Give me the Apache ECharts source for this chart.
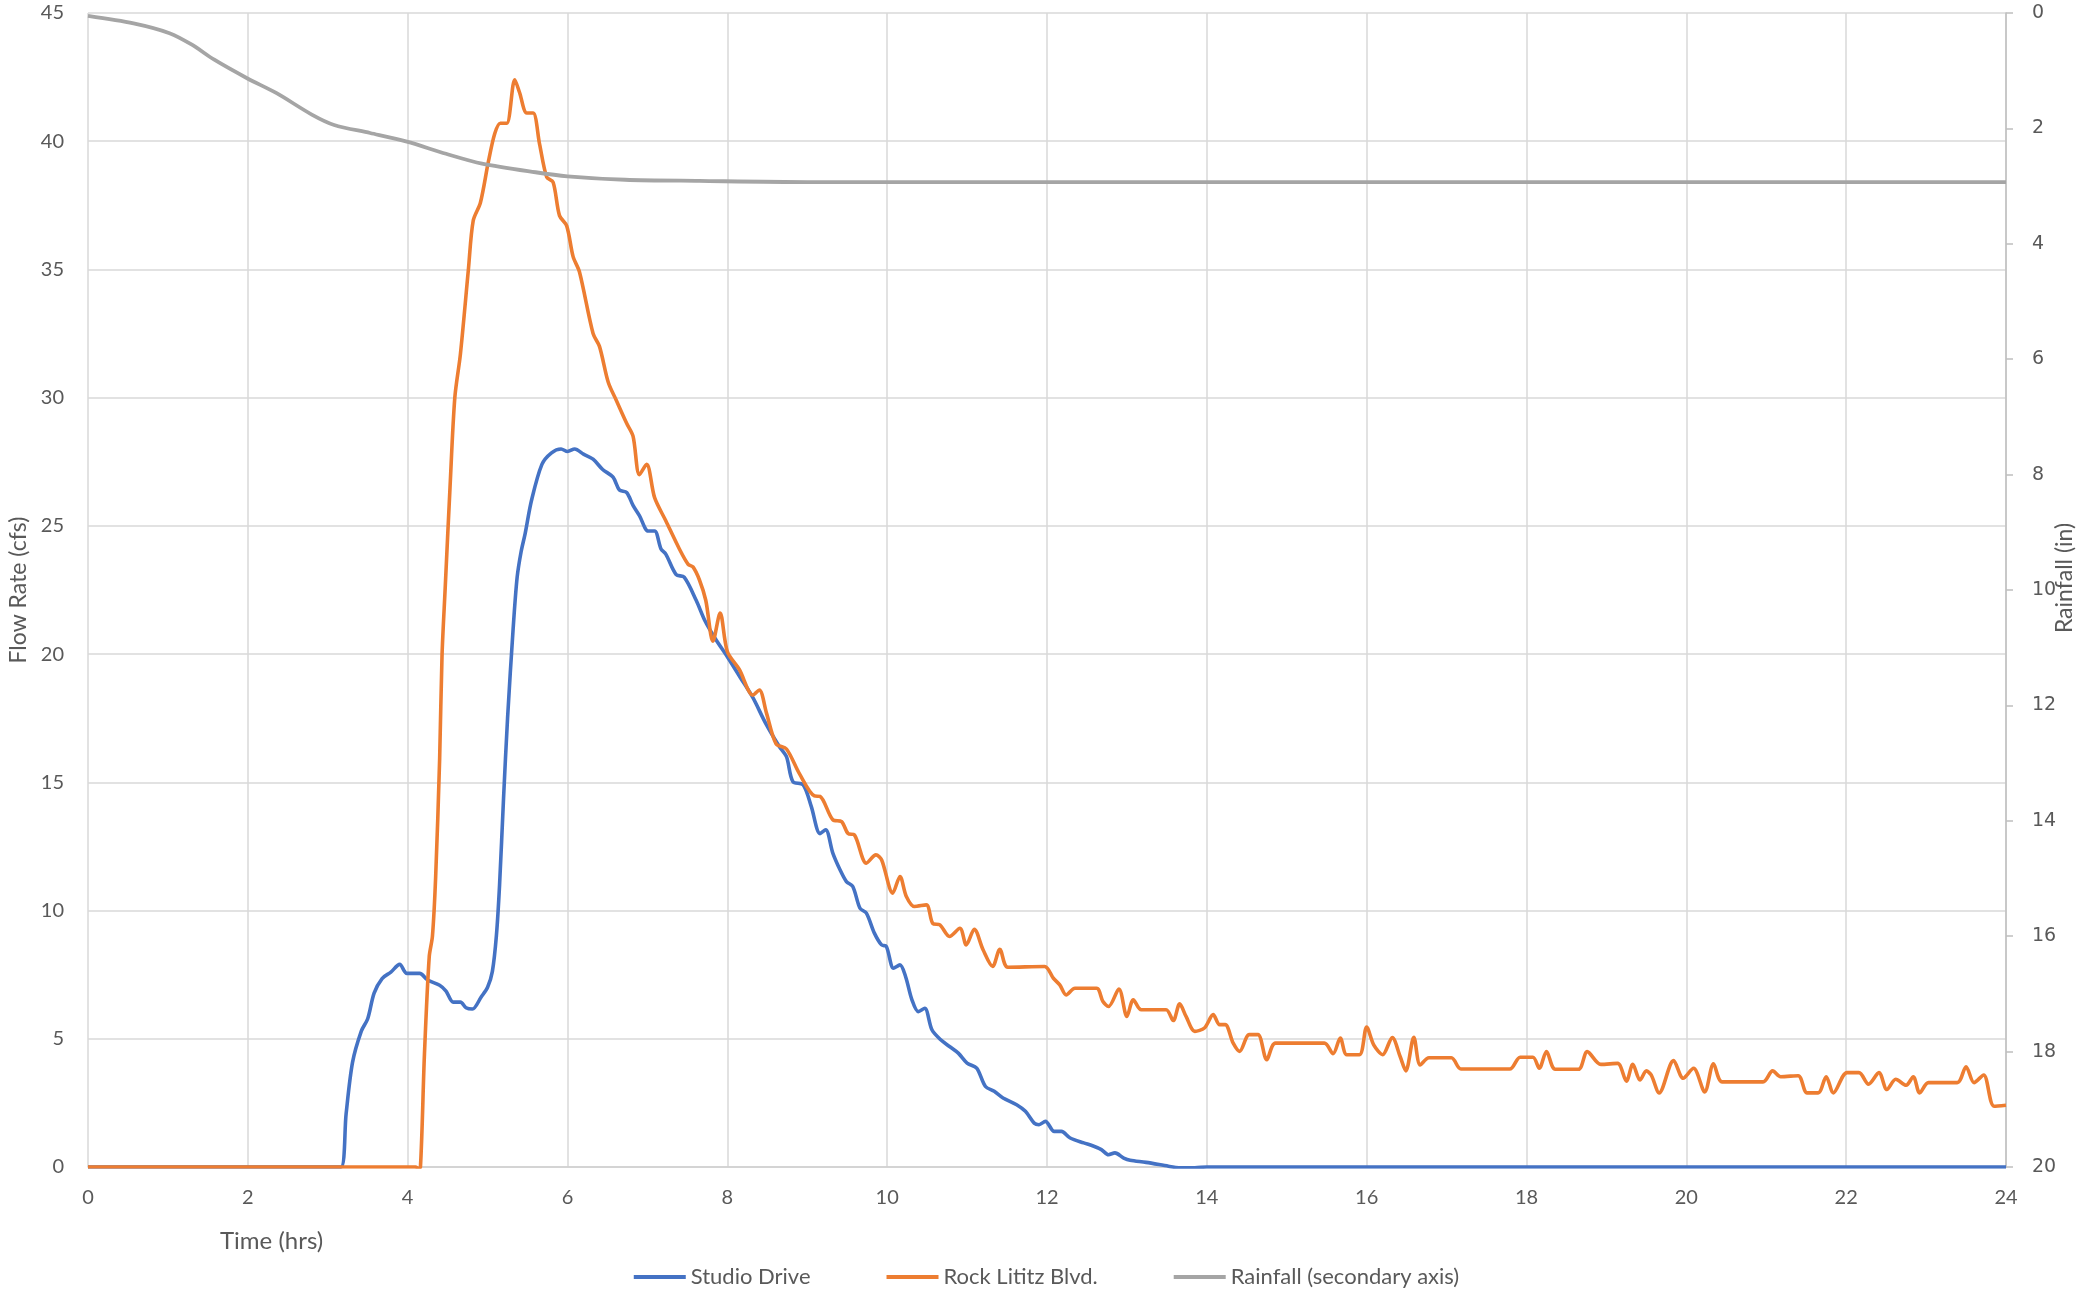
<!DOCTYPE html>
<html>
<head>
<meta charset="utf-8">
<script src="https://cdn.jsdelivr.net/npm/echarts@6/dist/echarts.min.js"></script>
<style>
html,body{margin:0;padding:0;background:#fff;}
#chart{width:2093px;height:1289px;}
</style>
</head>
<body>
<div id="chart"></div>
<script>
// ---- Data ----
var xTicks = [0, 2, 4, 6, 8, 10, 12, 14, 16, 18, 20, 22, 24];

var studioTime = [0, 3.0, 3.165, 3.23, 3.31, 3.42, 3.5, 3.58, 3.68, 3.79, 3.9, 3.99, 4.15, 4.25, 4.40, 4.48, 4.57, 4.66, 4.73, 4.81, 4.92, 5.0, 5.06, 5.11, 5.15, 5.20, 5.25, 5.32, 5.37, 5.42, 5.47, 5.55, 5.68, 5.80, 5.92, 6.0, 6.09, 6.2, 6.32, 6.44, 6.57, 6.65, 6.74, 6.82, 6.90, 7.01, 7.09, 7.17, 7.23, 7.36, 7.46, 7.61, 7.72, 7.85, 8.0, 8.16, 8.32, 8.48, 8.65, 8.74, 8.82, 8.95, 9.05, 9.16, 9.23, 9.32, 9.41, 9.49, 9.57, 9.66, 9.74, 9.84, 9.93, 9.99, 10.08, 10.16, 10.23, 10.31, 10.39, 10.47, 10.56, 10.67, 10.78, 10.89, 11.0, 11.12, 11.23, 11.34, 11.45, 11.62, 11.73, 11.84, 11.9, 11.98, 12.09, 12.18, 12.29, 12.46, 12.57, 12.68, 12.77, 12.85, 12.96, 13.04, 13.24, 13.52, 13.65, 13.85, 14.0, 24];
var studioFlow = [0, 0, 0, 2.08, 4.08, 5.3, 5.78, 6.78, 7.35, 7.6, 7.9, 7.55, 7.55, 7.29, 7.09, 6.86, 6.43, 6.43, 6.21, 6.16, 6.63, 7.01, 7.63, 9.01, 11.0, 14.4, 17.5, 21.0, 23.0, 24.0, 24.7, 26.0, 27.4, 27.85, 28.0, 27.9, 28.0, 27.8, 27.6, 27.2, 26.9, 26.4, 26.3, 25.8, 25.4, 24.8, 24.8, 24.1, 23.9, 23.1, 23.0, 22.1, 21.3, 20.6, 19.9, 19.1, 18.3, 17.3, 16.4, 16.0, 15.03, 14.9, 14.06, 13.0, 13.15, 12.24, 11.59, 11.13, 10.94, 10.09, 9.9, 9.12, 8.66, 8.6, 7.75, 7.88, 7.43, 6.52, 6.06, 6.19, 5.35, 4.96, 4.7, 4.44, 4.05, 3.86, 3.14, 2.95, 2.69, 2.43, 2.17, 1.71, 1.65, 1.78, 1.39, 1.39, 1.13, 0.94, 0.83, 0.68, 0.48, 0.55, 0.35, 0.26, 0.18, 0.03, -0.03, -0.03, 0, 0];

var rockTime = [0, 4.1, 4.13, 4.16, 4.21, 4.27, 4.31, 4.35, 4.40, 4.43, 4.47, 4.53, 4.59, 4.66, 4.76, 4.82, 4.91, 5.01, 5.09, 5.16, 5.24, 5.34, 5.40, 5.49, 5.57, 5.65, 5.74, 5.82, 5.90, 5.99, 6.07, 6.15, 6.32, 6.40, 6.51, 6.61, 6.74, 6.82, 6.90, 6.99, 7.09, 7.23, 7.40, 7.51, 7.57, 7.65, 7.73, 7.82, 7.91, 8.0, 8.15, 8.32, 8.40, 8.49, 8.61, 8.74, 8.9, 9.09, 9.16, 9.32, 9.43, 9.51, 9.59, 9.74, 9.86, 9.93, 10.07, 10.16, 10.24, 10.34, 10.49, 10.57, 10.66, 10.78, 10.91, 10.99, 11.09, 11.2, 11.32, 11.41, 11.51, 11.97, 12.08, 12.16, 12.24, 12.35, 12.62, 12.70, 12.77, 12.9, 13.0, 13.08, 13.18, 13.49, 13.58, 13.66, 13.74, 13.85, 13.97, 14.08, 14.16, 14.23, 14.33, 14.41, 14.53, 14.64, 14.75, 14.86, 15.47, 15.58, 15.67, 15.75, 15.91, 16.0, 16.09, 16.2, 16.32, 16.42, 16.49, 16.59, 16.67, 16.78, 17.06, 17.18, 17.79, 17.92, 18.08, 18.16, 18.25, 18.36, 18.65, 18.76, 18.93, 19.14, 19.25, 19.33, 19.42, 19.5, 19.56, 19.66, 19.84, 19.96, 20.09, 20.23, 20.34, 20.45, 20.96, 21.08, 21.18, 21.4, 21.51, 21.65, 21.75, 21.84, 22.01, 22.16, 22.28, 22.41, 22.51, 22.62, 22.75, 22.84, 22.92, 23.03, 23.39, 23.5, 23.6, 23.72, 23.85, 24.0];
var rockFlow = [0, 0, -0.05, 0, 4.4, 8.2, 9.0, 11.3, 15.9, 19.95, 22.6, 26.5, 30.0, 31.7, 35.0, 36.9, 37.6, 39.2, 40.3, 40.7, 40.7, 42.4, 41.9, 41.1, 41.1, 39.9, 38.6, 38.4, 37.1, 36.7, 35.5, 34.9, 32.5, 32.0, 30.6, 29.9, 29.0, 28.5, 27.0, 27.4, 26.1, 25.2, 24.1, 23.5, 23.4, 22.9, 22.1, 20.5, 21.6, 20.1, 19.4, 18.4, 18.6, 17.7, 16.5, 16.3, 15.35, 14.47, 14.45, 13.54, 13.47, 13.0, 12.95, 11.85, 12.17, 11.98, 10.68, 11.33, 10.55, 10.16, 10.22, 9.5, 9.44, 8.99, 9.31, 8.66, 9.27, 8.47, 7.82, 8.49, 7.79, 7.82, 7.36, 7.1, 6.71, 6.97, 6.97, 6.45, 6.26, 6.94, 5.87, 6.52, 6.13, 6.13, 5.71, 6.36, 5.87, 5.29, 5.42, 5.94, 5.55, 5.55, 4.83, 4.51, 5.16, 5.16, 4.18, 4.83, 4.83, 4.42, 5.03, 4.38, 4.38, 5.46, 4.75, 4.38, 5.05, 4.3, 3.75, 5.06, 3.98, 4.26, 4.26, 3.82, 3.82, 4.28, 4.28, 3.85, 4.5, 3.81, 3.81, 4.5, 4.0, 4.04, 3.35, 4.0, 3.39, 3.75, 3.59, 2.89, 4.15, 3.46, 3.85, 2.93, 4.02, 3.32, 3.32, 3.75, 3.52, 3.56, 2.89, 2.89, 3.52, 2.89, 3.68, 3.68, 3.23, 3.68, 3.02, 3.42, 3.19, 3.52, 2.89, 3.29, 3.29, 3.91, 3.29, 3.59, 2.37, 2.41];

var rainTime = [0, 0.57, 1.02, 1.3, 1.58, 1.99, 2.36, 2.8, 3.08, 3.53, 3.99, 4.48, 4.93, 5.6, 6.0, 6.72, 7.65, 9.0, 24];
var rainDepth = [0.05, 0.18, 0.35, 0.55, 0.81, 1.13, 1.39, 1.76, 1.94, 2.08, 2.23, 2.44, 2.61, 2.76, 2.83, 2.89, 2.91, 2.93, 2.93];

var seriesNames = ['Studio Drive', 'Rock Lititz Blvd.', 'Rainfall (secondary axis)'];
var seriesColors = ['#4472C4', '#ED7D31', '#A5A5A5'];

function zip(a, b) { return a.map(function (v, i) { return [v, b[i]]; }); }

var FONT = 'Lato, "Open Sans", sans-serif';
var TXT = '#595959';

var chart = echarts.init(document.getElementById('chart'), null, { renderer: 'canvas' });
chart.setOption({
  animation: false,
  backgroundColor: '#ffffff',
  color: seriesColors,
  title: {
    text: 'Time (hrs)',
    left: 215,
    top: 1224,
    textStyle: { fontFamily: FONT, fontSize: 24, fontWeight: 'normal', color: TXT }
  },
  grid: { left: 88, right: 87, top: 13, bottom: 122, containLabel: false, outerBoundsMode: 'none' },
  legend: {
    data: seriesNames,
    top: 1261,
    left: 'center',
    icon: 'rect',
    itemWidth: 52,
    itemHeight: 4,
    itemGap: 76,
    textStyle: { fontFamily: FONT, fontSize: 22, color: TXT }
  },
  xAxis: {
    type: 'value',
    min: 0, max: 24, interval: 2,
    axisLine: { show: true, lineStyle: { color: '#D0D0D0', width: 1.5 } },
    axisTick: { show: false },
    axisLabel: { color: TXT, fontFamily: FONT, fontSize: 20, margin: 21 },
    splitLine: { show: true, lineStyle: { color: '#D9D9D9', width: 1.5 } }
  },
  yAxis: [
    {
      type: 'value',
      min: 0, max: 45, interval: 5,
      name: 'Flow Rate (cfs)',
      nameLocation: 'middle',
      nameRotate: 90,
      nameGap: 52,
      nameTextStyle: { fontFamily: FONT, fontSize: 23, color: TXT },
      axisLine: { show: false },
      axisTick: { show: false },
      axisLabel: { color: TXT, fontFamily: FONT, fontSize: 20, margin: 24 },
      splitLine: { show: true, lineStyle: { color: '#D9D9D9', width: 1.5 } }
    },
    {
      type: 'value',
      min: 0, max: 20, interval: 2,
      inverse: true,
      position: 'right',
      name: 'Rainfall (in)',
      nameLocation: 'middle',
      nameRotate: 90,
      nameGap: 47,
      nameMoveOverlap: false,
      nameTextStyle: { fontFamily: FONT, fontSize: 23, color: TXT, padding: [0, 0, 0, 24] },
      axisLine: { show: true, lineStyle: { color: '#BFBFBF', width: 1.5 } },
      axisTick: { show: true, length: 7, lineStyle: { color: '#BFBFBF', width: 1.5 } },
      axisLabel: { color: TXT, fontFamily: '"DejaVu Sans", sans-serif', fontSize: 19, margin: 26, align: 'left' },
      splitLine: { show: false }
    }
  ],
  series: [
    {
      name: seriesNames[0], type: 'line', yAxisIndex: 0,
      data: zip(studioTime, studioFlow),
      smooth: 0.3, symbol: 'none',
      lineStyle: { width: 3.6, color: seriesColors[0] }
    },
    {
      name: seriesNames[1], type: 'line', yAxisIndex: 0,
      data: zip(rockTime, rockFlow),
      smooth: 0.3, symbol: 'none',
      lineStyle: { width: 3.6, color: seriesColors[1] }
    },
    {
      name: seriesNames[2], type: 'line', yAxisIndex: 1,
      data: zip(rainTime, rainDepth),
      smooth: 0.3, symbol: 'none',
      lineStyle: { width: 3.8, color: seriesColors[2] }
    }
  ]
});
</script>
</body>
</html>
